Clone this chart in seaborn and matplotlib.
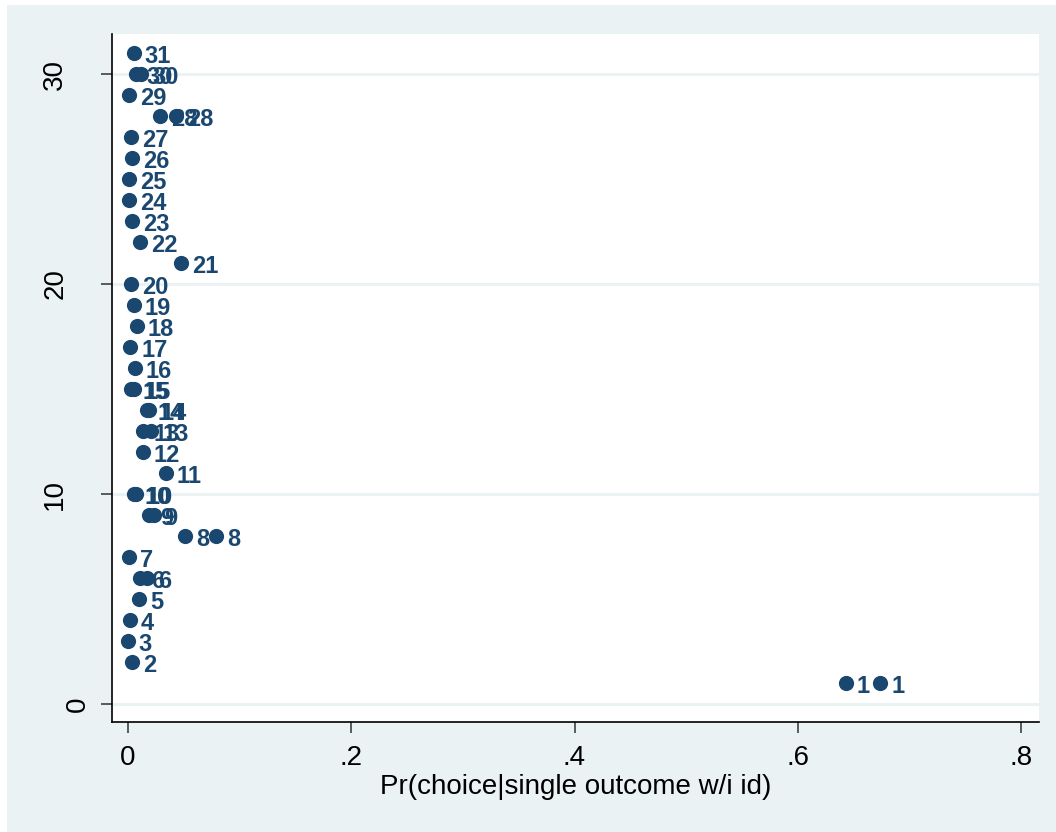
import matplotlib
matplotlib.use("Agg")
import matplotlib.pyplot as plt
import matplotlib.transforms as mtransforms
from matplotlib.patches import Rectangle
import seaborn as sns
import pandas as pd

# ---- data ----
obs_id = [31, 30, 30, 29, 28, 28, 27, 26, 25, 24, 23, 22, 21, 20, 19, 18, 17, 16,
          15, 15, 14, 14, 13, 13, 12, 11, 10, 10, 9, 9, 8, 8, 7, 6, 6, 5, 4, 3, 2, 1, 1]
prob = [0.0054, 0.007, 0.012, 0.001, 0.029, 0.043, 0.003, 0.0036, 0.001, 0.0013,
        0.0034, 0.011, 0.0475, 0.003, 0.005, 0.008, 0.002, 0.006,
        0.003, 0.005, 0.017, 0.019, 0.013, 0.021, 0.013, 0.034, 0.005, 0.007,
        0.019, 0.023, 0.051, 0.079, 0.001, 0.011, 0.017, 0.010, 0.002, 0.000,
        0.004, 0.643, 0.674]
x_ticks = [0, 0.2, 0.4, 0.6, 0.8]
x_tick_labels = ["0", ".2", ".4", ".6", ".8"]
y_ticks = [0, 10, 20, 30]
y_tick_labels = ["0", "10", "20", "30"]
x_title = "Pr(choice|single outcome w/i id)"

df = pd.DataFrame({"id": obs_id, "p": prob})

BG = "#EAF2F3"
NAVY = "#1a476f"

sns.set_theme(style="white")
plt.rcParams["font.family"] = ["Liberation Sans", "DejaVu Sans"]

fig = plt.figure(figsize=(10.56, 8.32), dpi=100, facecolor=BG)
ax = fig.add_axes([112 / 1056, 1 - 722 / 832, (1039 - 112) / 1056, (722 - 34) / 832])
ax.set_facecolor("white")

# white outer strips (left/top) as in the reference export
fig.patches.append(Rectangle((0, 0), 7 / 1056, 1, transform=fig.transFigure,
                             facecolor="white", edgecolor="none", zorder=-1))
fig.patches.append(Rectangle((0, 1 - 5 / 832), 1, 5 / 832, transform=fig.transFigure,
                             facecolor="white", edgecolor="none", zorder=-1))

for yv in y_ticks:
    ax.axhline(yv, color=BG, lw=2.2, zorder=0)

sns.scatterplot(data=df, x="p", y="id", ax=ax, s=120, color=NAVY,
                edgecolor=NAVY, linewidth=0, zorder=3, legend=False)

for xv, yv in zip(df["p"], df["id"]):
    ax.annotate(str(yv), (xv, yv), xytext=(7.8, -7.0), textcoords="offset points",
                ha="left", va="baseline", color=NAVY, fontsize=17,
                fontweight="bold", zorder=4)

ax.set_xlim(-0.01434, 0.8161)
ax.set_ylim(-0.857, 31.905)

ax.set_xticks(x_ticks)
ax.set_xticklabels(x_tick_labels)
ax.set_yticks(y_ticks)
ax.set_yticklabels(y_tick_labels, rotation=90, va="center")

ax.tick_params(axis="x", direction="out", length=8, width=1.1, color="#333333",
               pad=8.5, labelsize=20, labelcolor="black", bottom=True)
ax.tick_params(axis="y", direction="out", length=8, width=1.1, color="#333333",
               pad=23.5, labelsize=20, labelcolor="black", left=True)

for side in ["top", "right"]:
    ax.spines[side].set_visible(False)
for side in ["left", "bottom"]:
    ax.spines[side].set_color("black")
    ax.spines[side].set_linewidth(1.2)

# the "0" y label sits closer to the axis in the reference
lbl0 = ax.get_yticklabels()[0]
lbl0.set_transform(lbl0.get_transform() + mtransforms.ScaledTranslation(23 / 100, 0, fig.dpi_scale_trans))

ax.set_xlabel(x_title, fontsize=20, labelpad=2, color="black")
ax.set_ylabel("")

fig.savefig("out.png", dpi=100, facecolor=BG)
